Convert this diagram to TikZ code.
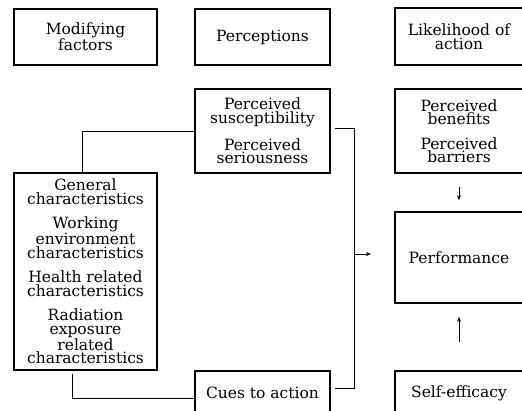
\documentclass[tikz,border=0pt]{standalone}
\usepackage{fontspec}
\setmainfont{DejaVu Serif}
\usetikzlibrary{arrows.meta}
\begin{document}
\begin{tikzpicture}[x=1pt,y=-1pt,
  box/.style={draw, line width=1.6pt, align=center, inner sep=0pt,
    font=\fontsize{15.5}{13.5}\selectfont},
  conn/.style={line width=0.8pt},
  arr/.style={line width=0.8pt, -{Stealth[length=5pt,width=4pt]}}]
\useasboundingbox (0,0) rectangle (522,411);
\clip (0,0) rectangle (522,411);
\node[box, minimum width=143, minimum height=56] (mod) at (85.5,37) {Modifying\\factors};
\node[box, minimum width=135, minimum height=56] (perc) at (262.5,37) {Perceptions};
\node[box, minimum width=128, minimum height=57] (like) at (459,36.5) {Likelihood of\\action};
\node[box, minimum width=135, minimum height=84] (susc) at (262.5,131) {Perceived\\susceptibility\\[11pt]Perceived\\seriousness};
\node[box, minimum width=128, minimum height=84] (ben) at (459,131) {Perceived\\benefits\\[11pt]Perceived\\barriers};
\node[box, minimum width=128, minimum height=91] (perf) at (459,257.5) {Performance};
\node[box, minimum width=128, minimum height=44] (self) at (459,393) {Self-efficacy};
\node[box, minimum width=143, minimum height=197] (gen) at (85.5,271.5) {General\\characteristics\\[11pt]Working\\environment\\characteristics\\[11pt]Health related\\characteristics\\[11pt]Radiation\\exposure\\related\\characteristics};
\node[box, minimum width=135, minimum height=44] (cues) at (262.5,393) {Cues to action};
\draw[conn] (susc.west) -| ([xshift=-3.5pt]gen.north);
\draw[conn] ([xshift=-13.5pt,yshift=-3pt]gen.south) |- ([yshift=-5pt]cues.west);
\coordinate (jt) at (354,128);
\coordinate (jb) at (354,388);
\coordinate (ja) at (354,254);
\coordinate (ta) at (371,254);
\draw[conn] ([xshift=4pt,yshift=3pt]susc.east) -- (jt) -- (jb) -- ([xshift=4pt,yshift=5pt]cues.east);
\draw[arr] (ja) -- (ta);
\draw[arr] ([yshift=-13pt]ben.south) -- ([yshift=11pt]perf.north);
\draw[arr] ([yshift=28pt]self.north) -- ([yshift=-13pt]perf.south);
\end{tikzpicture}
\end{document}
